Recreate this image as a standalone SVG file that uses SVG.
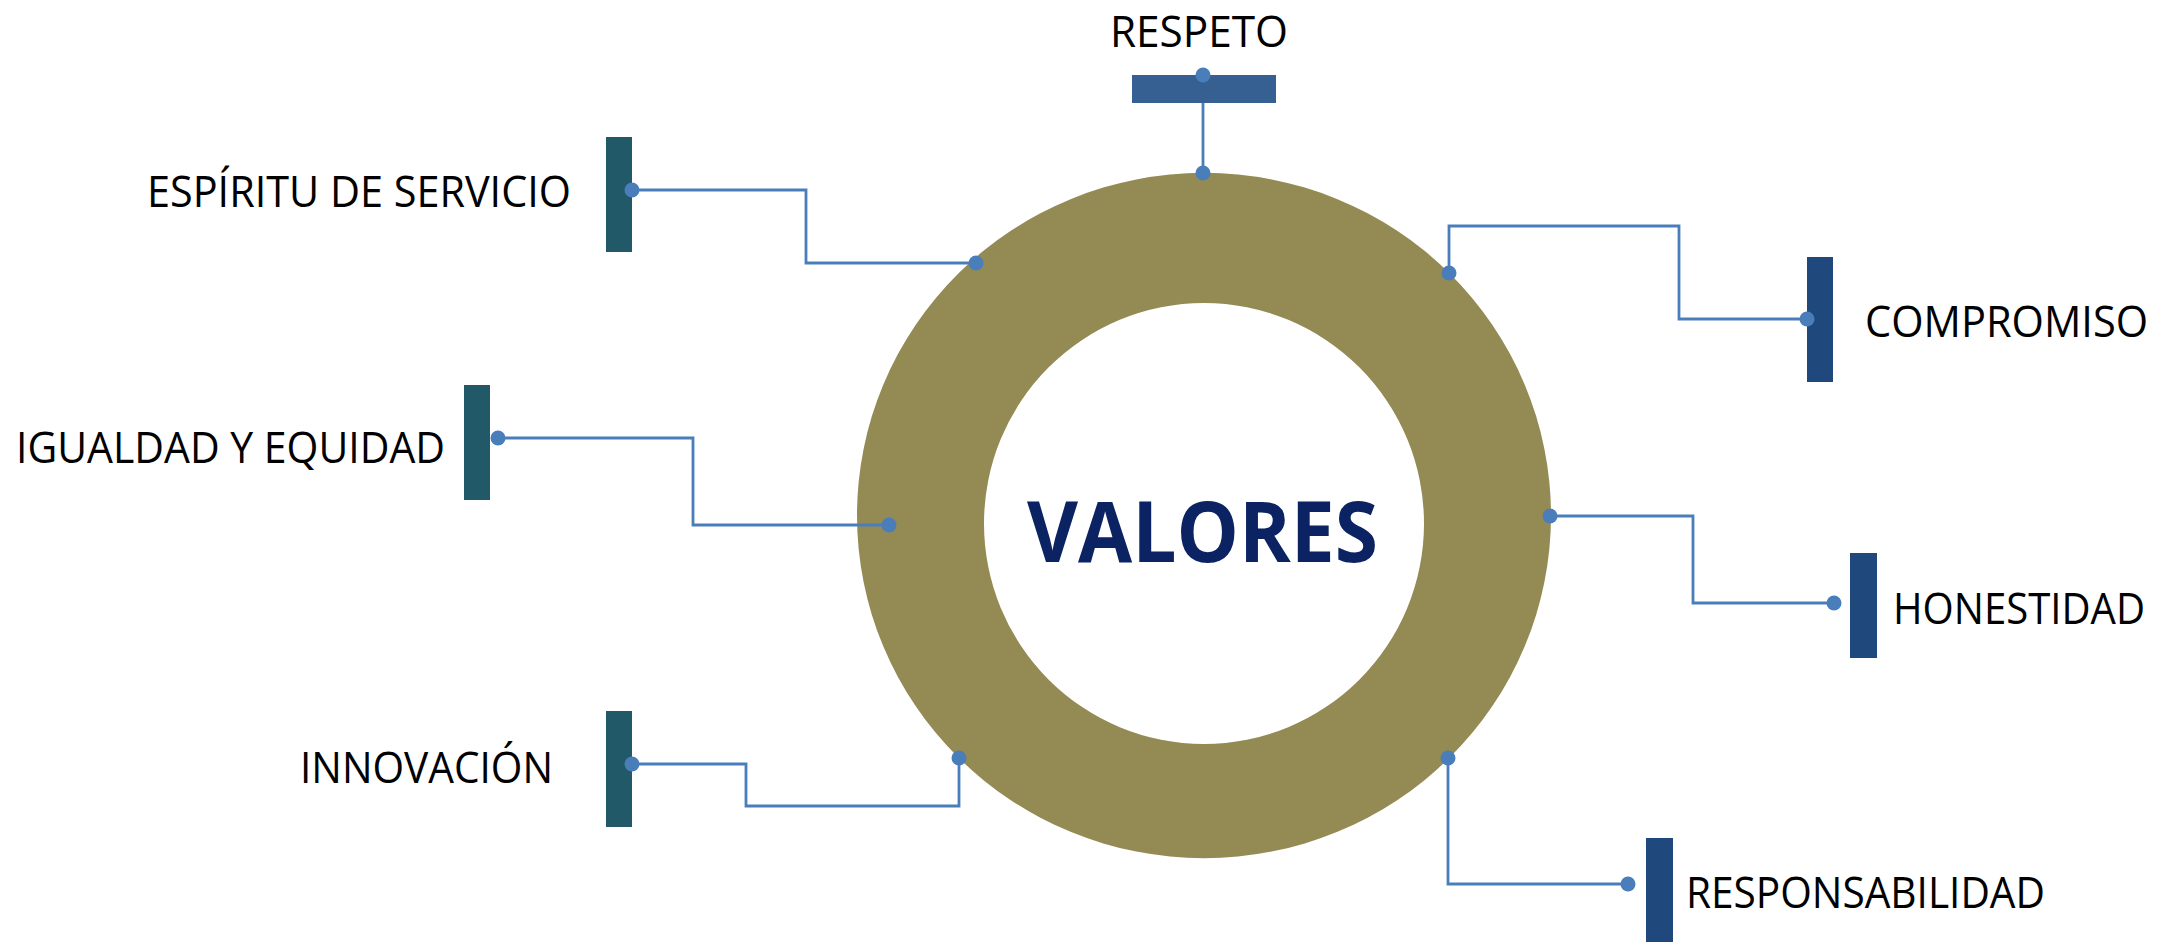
<svg xmlns="http://www.w3.org/2000/svg" width="2159" height="942" viewBox="0 0 2159 942">
<style>
.lbl{font-family:"Open Sans","Liberation Sans",sans-serif;font-size:44px;fill:#000}
.title{font-family:"Open Sans","Liberation Sans",sans-serif;font-size:84px;font-weight:bold;fill:#0b2263}
.teal{fill:#215968}
.navy{fill:#1f497d}
.mid{fill:#366092}
.conn{fill:none;stroke:#4a7ebb;stroke-width:2.8}
.dot{fill:#4a7ebb}
</style>
<rect width="2159" height="942" fill="#fff"/>
<g id="ring">
<path fill="#948a54" fill-rule="evenodd" d="M857,515.5 A347,342.5 0 1,0 1551,515.5 A347,342.5 0 1,0 857,515.5 Z M984,523.5 A220,220.5 0 1,1 1424,523.5 A220,220.5 0 1,1 984,523.5 Z"/>
<text class="title" x="1027" y="562" textLength="351" lengthAdjust="spacingAndGlyphs">VALORES</text>
</g>
<g id="connectors">
<polyline class="conn" points="1203,75 1203,173"/>
<polyline class="conn" points="632,190 806,190 806,263 976,263"/>
<polyline class="conn" points="1449,273 1449,226 1679,226 1679,319 1807,319"/>
<polyline class="conn" points="498,438 693,438 693,525 889,525"/>
<polyline class="conn" points="1550,516 1693,516 1693,603 1834,603"/>
<polyline class="conn" points="632,764 746,764 746,806 959,806 959,758"/>
<polyline class="conn" points="1448,758 1448,884 1628,884"/>
</g>
<g id="respeto">
<rect class="mid" x="1132" y="75" width="144" height="28"/>
<text class="lbl" x="1110" y="47" textLength="178" lengthAdjust="spacingAndGlyphs">RESPETO</text>
</g>
<g id="espiritu">
<rect class="teal" x="606" y="137" width="26" height="115"/>
<text class="lbl" x="147" y="207" textLength="424" lengthAdjust="spacingAndGlyphs">ESPÍRITU DE SERVICIO</text>
</g>
<g id="compromiso">
<rect class="navy" x="1807" y="257" width="26" height="125"/>
<text class="lbl" x="1865" y="337" textLength="283" lengthAdjust="spacingAndGlyphs">COMPROMISO</text>
</g>
<g id="igualdad">
<rect class="teal" x="464" y="385" width="26" height="115"/>
<text class="lbl" x="16" y="463" textLength="429" lengthAdjust="spacingAndGlyphs">IGUALDAD Y EQUIDAD</text>
</g>
<g id="honestidad">
<rect class="navy" x="1850" y="553" width="27" height="105"/>
<text class="lbl" x="1893" y="624" textLength="252" lengthAdjust="spacingAndGlyphs">HONESTIDAD</text>
</g>
<g id="innovacion">
<rect class="teal" x="606" y="711" width="26" height="116"/>
<text class="lbl" x="300" y="783" textLength="253" lengthAdjust="spacingAndGlyphs">INNOVACIÓN</text>
</g>
<g id="responsabilidad">
<rect class="navy" x="1646" y="838" width="27" height="104"/>
<text class="lbl" x="1686" y="908" textLength="359" lengthAdjust="spacingAndGlyphs">RESPONSABILIDAD</text>
</g>
<g id="dots">
<circle class="dot" cx="1203" cy="75" r="7.5"/>
<circle class="dot" cx="1203" cy="173" r="7.5"/>
<circle class="dot" cx="632" cy="190" r="7.5"/>
<circle class="dot" cx="976" cy="263" r="7.5"/>
<circle class="dot" cx="1449" cy="273" r="7.5"/>
<circle class="dot" cx="1807" cy="319" r="7.5"/>
<circle class="dot" cx="498" cy="438" r="7.5"/>
<circle class="dot" cx="889" cy="525" r="7.5"/>
<circle class="dot" cx="1550" cy="516" r="7.5"/>
<circle class="dot" cx="1834" cy="603" r="7.5"/>
<circle class="dot" cx="632" cy="764" r="7.5"/>
<circle class="dot" cx="959" cy="758" r="7.5"/>
<circle class="dot" cx="1448" cy="758" r="7.5"/>
<circle class="dot" cx="1628" cy="884" r="7.5"/>
</g>
</svg>
